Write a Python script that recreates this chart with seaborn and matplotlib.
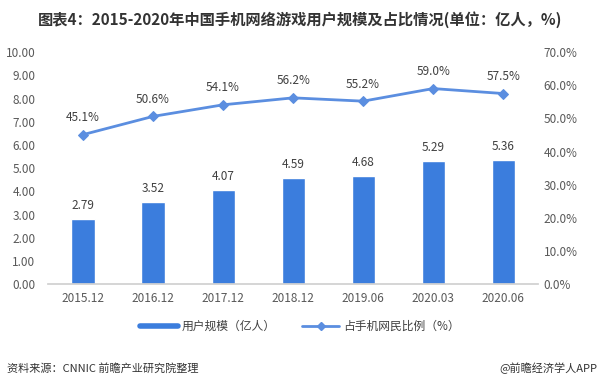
import matplotlib
matplotlib.use("Agg")
import matplotlib.pyplot as plt
import seaborn as sns
import pandas as pd
from matplotlib.lines import Line2D

# data
periods = ['2015.12', '2016.12', '2017.12', '2018.12', '2019.06', '2020.03', '2020.06']
users = [2.79, 3.52, 4.07, 4.59, 4.68, 5.29, 5.36]
share = [45.1, 50.6, 54.1, 56.2, 55.2, 59.0, 57.5]

df = pd.DataFrame({'period': periods, 'users': users, 'share': share})

sns.set_theme(style='white')
plt.rcParams['font.family'] = ['Noto Sans CJK SC', 'DejaVu Sans']

bar_color = '#3b7ddd'
line_color = '#5b8ee0'
tick_color = '#595959'

fig = plt.figure(figsize=(6, 3.86), dpi=100)
ax1 = fig.add_axes([0.08, 0.264, 0.817, 0.601])

sns.barplot(data=df, x='period', y='users', color=bar_color, width=0.33,
            saturation=1, ax=ax1)
ax1.set_ylim(0, 10)
ax1.set_yticks([i for i in range(0, 11)])
ax1.set_yticklabels([f'{i:.2f}' for i in range(0, 11)])
ax1.set_xlim(-0.5, len(periods) - 0.5)
for i, v in enumerate(users):
    ax1.text(i, v + 0.3, f'{v:.2f}', ha='center', va='bottom', fontsize=8.5, color='#404040')

ax2 = ax1.twinx()
sns.lineplot(data=df, x='period', y='share', color=line_color, marker='D',
             markersize=5, markeredgecolor=line_color, linewidth=2, sort=False, ax=ax2)
ax2.set_ylim(0, 70)
ax2.set_yticks([i * 10 for i in range(0, 8)])
ax2.set_yticklabels([f'{i * 10:.1f}%' for i in range(0, 8)])
for i, v in enumerate(share):
    ax2.text(i, v + 3.2, f'{v:.1f}%', ha='center', va='bottom', fontsize=8.5, color='#404040')

for ax in (ax1, ax2):
    ax.set_xlabel('')
    ax.set_ylabel('')
    for s in ax.spines.values():
        s.set_visible(False)
    ax.tick_params(axis='both', length=0, labelsize=8.5, labelcolor=tick_color)
ax1.spines['bottom'].set_visible(True)
ax1.spines['bottom'].set_color('#d0d0d0')
ax1.tick_params(axis='x', pad=6)
ax1.tick_params(axis='y', pad=9)
ax2.tick_params(axis='y', pad=4)

handles = [Line2D([0], [0], color=bar_color, linewidth=4),
           Line2D([0], [0], color=line_color, linewidth=2, marker='D', markersize=4)]
fig.legend(handles, ['用户规模（亿人）', '占手机网民比例（%）'], loc='center',
           bbox_to_anchor=(0.5, 0.155), ncol=2, frameon=False, fontsize=8.5,
           handlelength=3.2, handletextpad=0.3, columnspacing=2.2, labelcolor='#404040')

fig.text(0.5, 0.95, '图表4：2015-2020年中国手机网络游戏用户规模及占比情况(单位：亿人，%)',
         ha='center', va='center', fontsize=11, fontweight='bold', color='#333333')
fig.text(0.012, 0.045, '资料来源：CNNIC 前瞻产业研究院整理', ha='left', va='center',
         fontsize=8, color='#333333')
fig.text(0.995, 0.045, '@前瞻经济学人APP', ha='right', va='center',
         fontsize=8, color='#333333')

fig.savefig('out.png', dpi=100)
